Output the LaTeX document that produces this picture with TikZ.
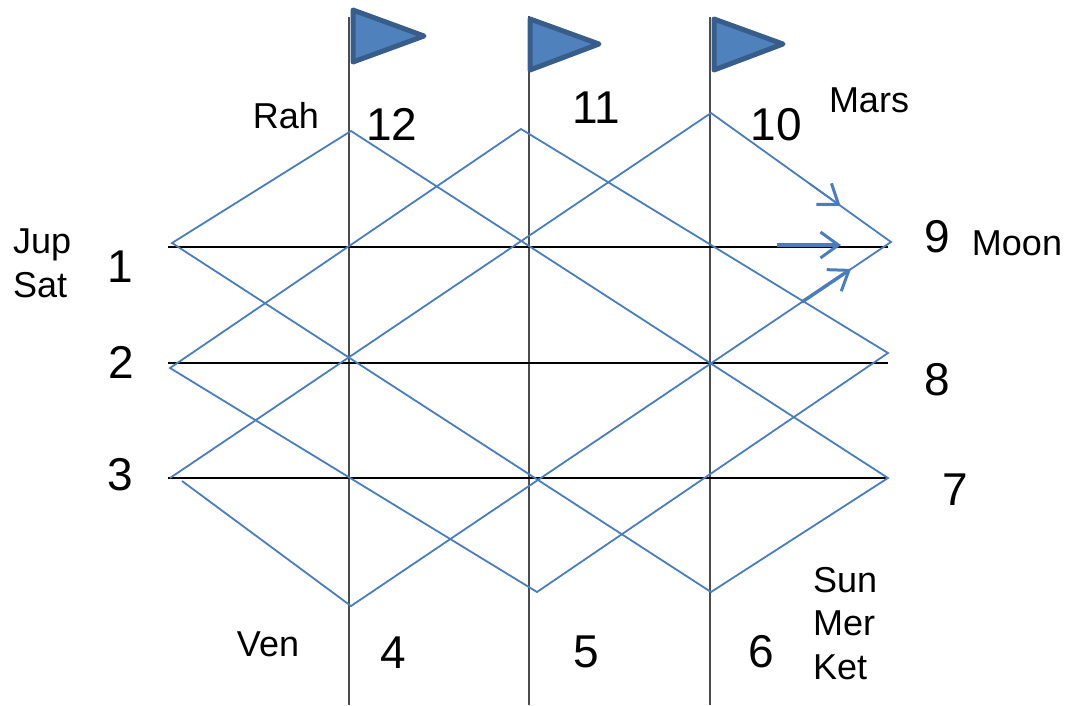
\documentclass[tikz,border=0pt]{standalone}
\usepackage{fontspec}
\setmainfont{Liberation Sans}
\usetikzlibrary{calc,arrows.meta}
\definecolor{chartblue}{HTML}{4A7EBB}
\definecolor{flagfill}{HTML}{4F81BD}
\definecolor{flagedge}{HTML}{385D8A}
\tikzset{
  link/.style={chartblue, line width=1.8pt},
  pole/.style={black!70, line width=2.5pt},
  rule/.style={black, line width=1.6pt},
  flag/.style={fill=flagfill, draw=flagedge, line width=5pt, line join=round},
  arr/.style={chartblue, -{Straight Barb[length=18pt,width=26pt,line width=3pt]}},
  num/.style={inner sep=0pt, anchor=base, font=\fontsize{46}{46}\selectfont},
  planet/.style={inner sep=0pt, font=\fontsize{36}{43.5}\selectfont}
}
\begin{document}
\begin{tikzpicture}[x=1pt,y=-1pt]
	\useasboundingbox (0,0) rectangle (1066,705);

	% poles with flags
	\foreach \x/\top in {349/17, 529/16, 710/17}{
	   \draw[pole] (\x,\top) -- (\x,705);
	}
	\draw[flag] (353,10) -- (424,36) -- (353,62) -- cycle;
	\draw[flag] (530,19) -- (599,44) -- (530,70) -- cycle;
	\draw[flag] (714,19) -- (783,44) -- (714,70) -- cycle;

	% house lines
	\foreach \y in {247,363,478}{
	   \draw[rule] (168,\y) -- (888,\y);
	}

	\coordinate (p1) at (172,243);
	\coordinate (p2) at (170,368);
	\coordinate (p3) at (170,478);
	\coordinate (p3b) at (182,481);
	\coordinate (p12) at (351,131);
	\coordinate (p11) at (521,129);
	\coordinate (p10) at (711,113);
	\coordinate (p9) at (891,242);
	\coordinate (p8) at (888,353);
	\coordinate (p7) at (888,478);
	\coordinate (p4) at (351,606);
	\coordinate (p5) at (537,592);
	\coordinate (p6) at (711,592);

	\draw[link] (p1) -- (p12) -- (p7) -- (p6) -- cycle;
	\draw[link] (p2) -- (p11) -- (p8) -- (p5) -- cycle;
	\draw[link] (p3) -- (p10) -- (p9) -- (p4) -- (p3b);

	% aspects on 9
	\coordinate (m1) at (777,245);
	\coordinate (m2) at (841,245);
	\draw[arr, line width=1.8pt] ($(p10)!0.55!(p9)$) -- ($(p10)!0.72!(p9)$);
	\draw[arr, line width=3.5pt] (m1) -- (m2);
	\draw[arr, line width=3.5pt] ($(p4)!0.835!(p9)$) -- ($(p4)!0.926!(p9)$);

	% house numbers
	\node[num] (n1) at (120,282) {1};
	\node[num] (n2) at (121,378) {2};
	\node[num] (n3) at (120,490) {3};
	\node[num] (n4) at (393,668) {4};
	\node[num] (n5) at (586,667) {5};
	\node[num] (n6) at (761,667) {6};
	\node[num] (n7) at (955,505) {7};
	\node[num] (n8) at (937,395) {8};
	\node[num] (n9) at (937,252) {9};
	\node[num] (n10) at (776,140) {10};
	\node[num] (n11) at (596,123) {11};
	\node[num] (n12) at (392,140) {12};

	% planets
	\node[planet, anchor=base] (rah) at (286,128) {Rah};
	\node[planet, anchor=base] (mars) at (869,112) {Mars};
	\node[planet, anchor=base] (moon) at (1017,255) {Moon};
	\node[planet, anchor=base] (ven) at (268,656) {Ven};
	\node[planet, anchor=north west, align=left] (jupsat) at (13,229) {Jup\\Sat};
	\node[planet, anchor=north west, align=left] (sunmer) at (813,567) {Sun\\Mer\\Ket};
\end{tikzpicture}
\end{document}
